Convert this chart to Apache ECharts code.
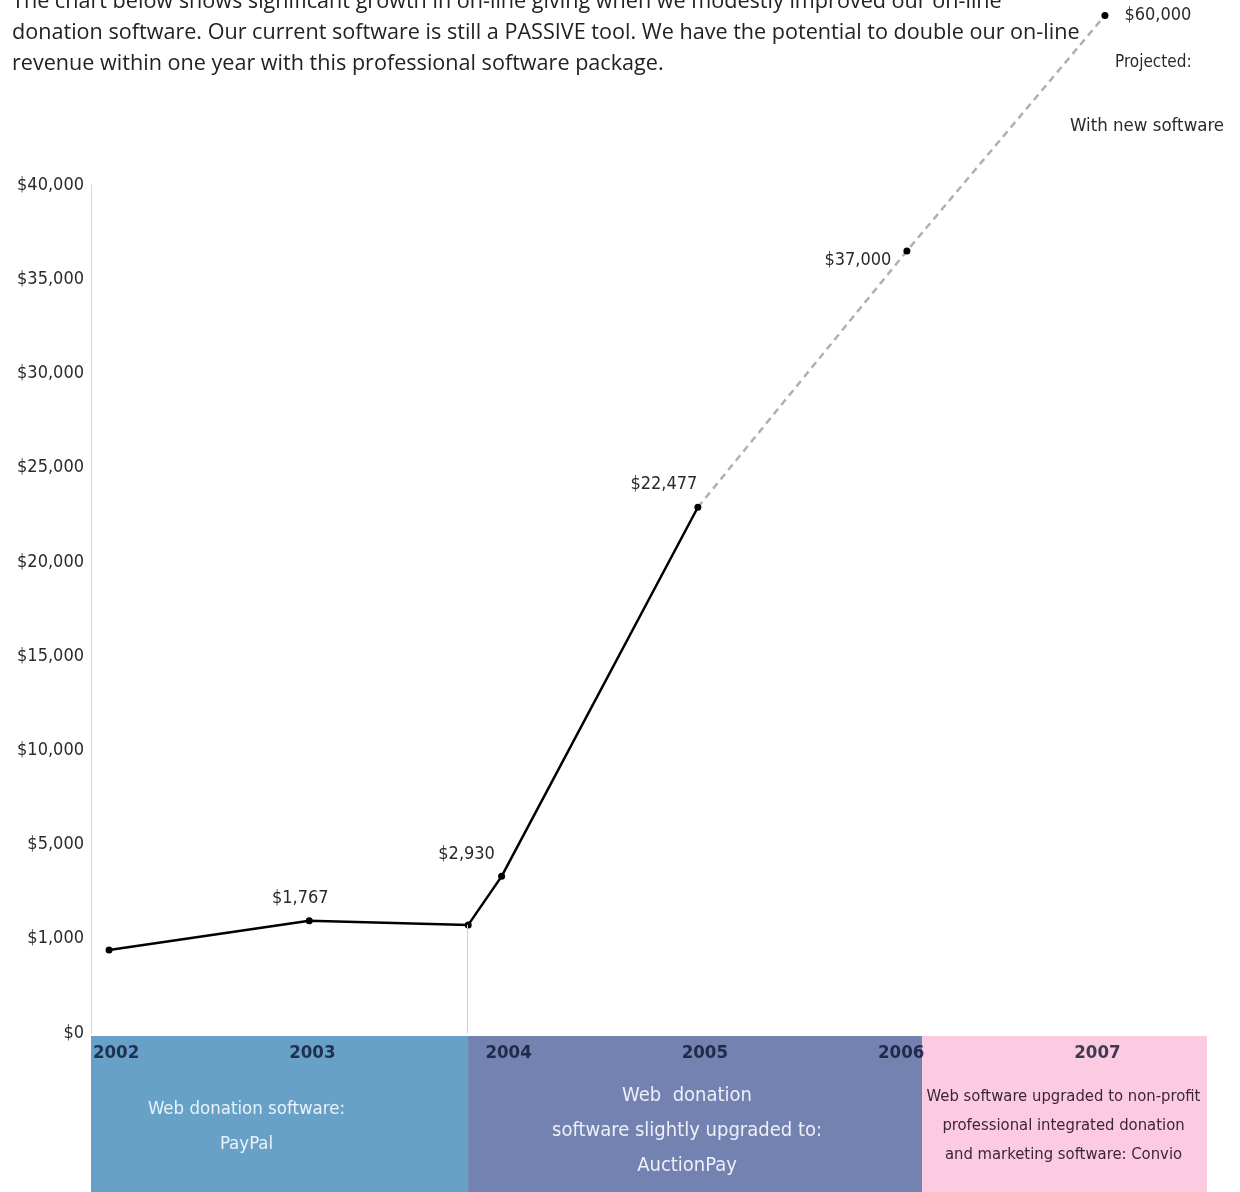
<!DOCTYPE html>
<html>
<head>
<meta charset="utf-8">
<script src="https://cdn.jsdelivr.net/npm/echarts@6/dist/echarts.min.js"></script>
<style>
  html, body { margin: 0; padding: 0; background: #fff; }
  #main { width: 1240px; height: 1192px; }
</style>
</head>
<body>
<div id="main"></div>
<script>
// y axis is not linear: ticks are evenly spaced but the steps differ
var yTickValues = [0, 1000, 5000, 10000, 15000, 20000, 25000, 30000, 35000, 40000];
var yTickLabels = ['$0', '$1,000', '$5,000', '$10,000', '$15,000', '$20,000', '$25,000', '$30,000', '$35,000', '$40,000'];

// actual giving (solid line)
var actualYears = [2002, 2003.02, 2003.83, 2004, 2005];
var actualValues = [880, 1767, 1590, 3650, 22900];
var actualLabels = ['', '$1,767', '', '$2,930', '$22,477'];

// projection (dashed line)
var projYears = [2005, 2006.065, 2007.074];
var projValues = [22900, 36500, 49000];
var projLabels = ['', '$37,000', '$60,000'];

// software periods under the chart
var years = [2002, 2003, 2004, 2005, 2006, 2007];
var bandStart = [2001.908, 2003.829, 2006.142];
var bandEnd = [2003.829, 2006.142, 2007.594];
var bandText = [
  'Web donation software:\nPayPal',
  'Web  donation\nsoftware slightly upgraded to:\nAuctionPay',
  'Web software upgraded to non-profit\nprofessional integrated donation\nand marketing software: Convio'
];
var bandColors = ['#68a1c7', '#7382b0', '#fccbe2'];

var introText = 'The chart below shows significant growth in on-line giving when we modestly improved our on-line\n' +
  'donation software. Our current software is still a PASSIVE tool. We have the potential to double our on-line\n' +
  'revenue within one year with this professional software package.';

var condensed = '"Liberation Sans Narrow", "DejaVu Sans Condensed", "Roboto Condensed", sans-serif';
var X_MIN = 2001.908, X_MAX = 2007.594;

// dollars -> position on the evenly spaced tick scale
function toIdx(v) {
  var t = yTickValues;
  for (var i = 1; i < t.length; i++) {
    if (v <= t[i]) return (i - 1) + (v - t[i - 1]) / (t[i] - t[i - 1]);
  }
  var step = t[t.length - 1] - t[t.length - 2];
  return (t.length - 1) + (v - t[t.length - 1]) / step;
}

var actualLabelCfg = [
  null,
  { position: 'top', offset: [-9, -5] },
  null,
  { position: 'top', offset: [-35, -5] },
  { position: 'top', offset: [-34, -5] }
];
var projLabelCfg = [
  null,
  { position: 'left', distance: 12, offset: [0, 9] },
  { position: 'right', distance: 16, offset: [0, 0] }
];

var actualData = actualYears.map(function (x, i) {
  var d = { value: [x, toIdx(actualValues[i])] };
  if (actualLabelCfg[i]) {
    d.label = Object.assign({ show: true, formatter: actualLabels[i] }, actualLabelCfg[i]);
  }
  return d;
});
var projData = projYears.map(function (x, i) {
  var d = { value: [x, toIdx(projValues[i])] };
  if (i === 0) d.symbol = 'none';
  if (projLabelCfg[i]) {
    d.label = Object.assign({ show: true, formatter: projLabels[i] }, projLabelCfg[i]);
  }
  return d;
});

var bandAreas = bandStart.map(function (s, i) {
  return [
    { name: bandText[i], xAxis: s, itemStyle: { color: bandColors[i], opacity: 1 } },
    { xAxis: bandEnd[i] }
  ];
});
var bandLabelStyle = [
  { offset: [-33, 13], color: '#eaf2fa', fontSize: 18.5, lineHeight: 35 },
  { offset: [-8, 17], color: '#eef0f8', fontSize: 20, lineHeight: 35 },
  { offset: [-1, 12], color: '#3b2636', fontSize: 16.5, lineHeight: 29 }
];
bandAreas.forEach(function (a, i) {
  a[0].label = Object.assign({ show: true, position: 'inside', fontFamily: condensed }, bandLabelStyle[i]);
});

var chart = echarts.init(document.getElementById('main'));
chart.setOption({
  animation: false,
  title: [
    {
      text: introText, left: 7, top: -19,
      textStyle: { fontFamily: '"Open Sans", Lato, sans-serif', fontSize: 21.6, fontWeight: 'normal', color: '#222', lineHeight: 31 }
    },
    {
      text: 'Projected:', left: 1110, top: 49,
      textStyle: { fontFamily: condensed, fontSize: 17, fontWeight: 'normal', color: '#2a2a2a' }
    },
    {
      text: 'With new software', left: 1065, top: 112,
      textStyle: { fontFamily: condensed, fontSize: 18.5, fontWeight: 'normal', color: '#2a2a2a' }
    }
  ],
  grid: [
    { left: 91, right: 33, top: 185, bottom: 159 },
    { left: 91, right: 33, top: 1036, bottom: 0 }
  ],
  xAxis: [
    { type: 'value', gridIndex: 0, min: X_MIN, max: X_MAX, show: false },
    { type: 'value', gridIndex: 1, min: X_MIN, max: X_MAX, show: false }
  ],
  yAxis: [
    {
      type: 'value', gridIndex: 0, min: 0, max: 9, interval: 1,
      axisLine: { show: true, lineStyle: { color: '#d4d4d4', width: 1 } },
      axisTick: { show: false },
      splitLine: { show: false },
      axisLabel: {
        margin: 7, color: '#2a2a2a', fontSize: 18, fontFamily: condensed,
        formatter: function (v) { return yTickLabels[v]; }
      }
    },
    { type: 'value', gridIndex: 1, min: 0, max: 1, show: false }
  ],
  series: [
    {
      type: 'line',
      xAxisIndex: 0, yAxisIndex: 0,
      data: actualData,
      clip: false,
      symbol: 'circle', symbolSize: 7,
      itemStyle: { color: '#000' },
      lineStyle: { color: '#000', width: 2.5 },
      label: { show: false, fontFamily: condensed, fontSize: 18, color: '#2a2a2a' },
      markLine: {
        silent: true, symbol: 'none',
        lineStyle: { color: '#d0d0d0', width: 1, type: 'solid' },
        label: { show: false },
        data: [[
          { coord: [actualYears[2] - 0.004, toIdx(actualValues[2])] },
          { coord: [actualYears[2] - 0.004, 0] }
        ]]
      },
      z: 3
    },
    {
      type: 'line',
      xAxisIndex: 0, yAxisIndex: 0,
      data: projData,
      clip: false,
      symbol: 'circle', symbolSize: 7,
      itemStyle: { color: '#000' },
      lineStyle: { color: '#b0b0b0', width: 2.5, type: [7, 5] },
      label: { show: false, fontFamily: condensed, fontSize: 18, color: '#2a2a2a' },
      z: 2
    },
    {
      type: 'scatter',
      xAxisIndex: 1, yAxisIndex: 1,
      symbolSize: 0,
      data: years.map(function (y) { return [y, 0.89]; }),
      label: {
        show: true, position: 'inside', offset: [7, 0],
        fontFamily: condensed, fontSize: 18.5, fontWeight: 'bold', color: '#0b1530',
        formatter: function (p) { return String(p.value[0]); }
      },
      markArea: { silent: true, data: bandAreas },
      z: 3
    }
  ]
});
</script>
</body>
</html>
